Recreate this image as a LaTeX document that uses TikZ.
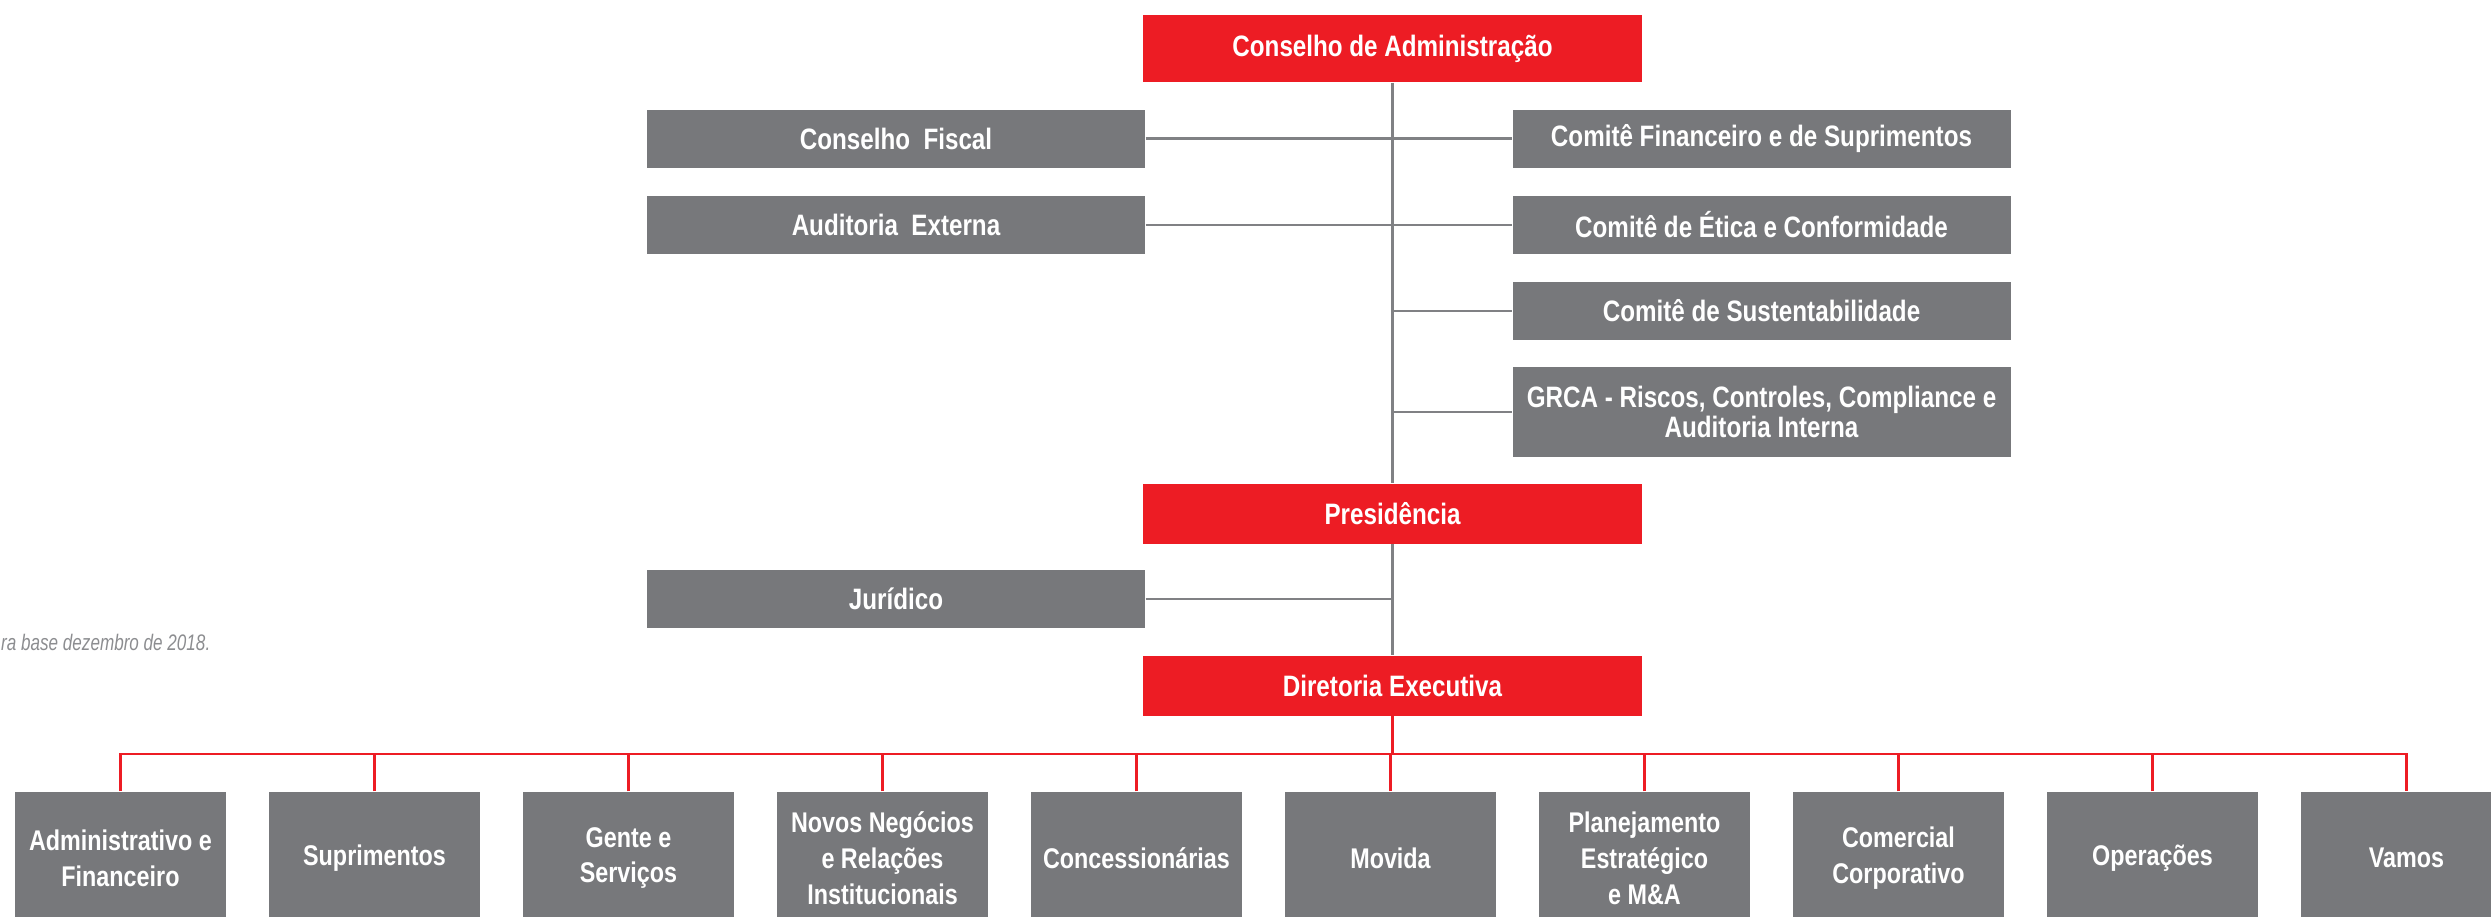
\documentclass[tikz,border=0pt]{standalone}
\usepackage{fontspec}
\setmainfont{Liberation Sans}[FakeStretch=0.82]
\newfontfamily\notefont{Liberation Sans}[FakeStretch=0.76]

\definecolor{boardred}{HTML}{ED1C24}
\definecolor{boxgray}{HTML}{77787B}
\definecolor{linegray}{HTML}{808184}
\definecolor{notegray}{HTML}{8C8D90}

\tikzset{
  redbox/.style={fill=boardred, text=white, inner sep=0pt, align=center,
    minimum width=49.9mm, minimum height=6.0mm,
    font=\fontsize{8.4}{8.6}\selectfont\bfseries},
  graybox/.style={fill=boxgray, text=white, inner sep=0pt, align=center,
    minimum width=49.8mm, minimum height=5.8mm,
    font=\fontsize{8.4}{8.6}\selectfont\bfseries},
  unitbox/.style={fill=boxgray, text=white, inner sep=0pt, align=center,
    minimum width=21.1mm, minimum height=13.2mm,
    font=\fontsize{8.1}{10.2}\selectfont\bfseries},
  trunk/.style={draw=linegray, line width=0.8pt},
  bus/.style={draw=boardred, line width=0.8pt}
}

\begin{document}
\begin{tikzpicture}[x=0.1mm,y=-0.1mm]
        \useasboundingbox (0,0) rectangle (2491,916);

        % board and its committees
        \node[redbox, minimum height=6.7mm] (conselho) at (1392.5,48.5) {Conselho de Administração};
        \node[graybox] (fiscal) at (896,138.5) {Conselho\ \ Fiscal};
        \node[graybox] (auditoria) at (896,225) {Auditoria\ \ Externa};
        \node[graybox] (financeiro) at (1761.5,138.5) {Comitê Financeiro e de Suprimentos};
        \node[graybox] (etica) at (1761.5,225) {Comitê de Ética e Conformidade};
        \node[graybox] (sustent) at (1761.5,311) {Comitê de Sustentabilidade};
        \node[graybox, minimum height=9.0mm] (grca) at (1761.5,412) {GRCA - Riscos, Controles, Compliance e\\Auditoria Interna};

        % management
        \node[redbox] (presid) at (1392.5,513.5) {Presidência};
        \node[graybox] (juridico) at (896,599) {Jurídico};
        \node[redbox] (diretoria) at (1392.5,685.5) {Diretoria Executiva};

        % note cut by the left edge
        \node[anchor=base east, inner sep=0pt, text=notegray,
          font=\fontsize{6.4}{7}\notefont\itshape] (nota) at (211,650) {ra base dezembro de 2018.};

        % grey trunk and its branches
        \draw[trunk] (conselho.south) -- (presid.north);
        \draw[trunk] (presid.south) -- (diretoria.north);
        \draw[trunk] (fiscal.east) -- (financeiro.west);
        \draw[trunk] (auditoria.east) -- (etica.west);
        \draw[trunk] (sustent.west) -- (sustent.west -| conselho.south);
        \draw[trunk] (grca.west) -- (grca.west -| conselho.south);
        \draw[trunk] (juridico.east) -- (juridico.east -| presid.south);

        % executive areas
        \foreach \i/\itext in {
            0/{Administrativo e\\Financeiro},
            1/Suprimentos,
            2/{Gente e\\Serviços},
            3/{Novos Negócios\\e Relações\\Institucionais},
            4/Concessionárias,
            5/Movida,
            6/{Planejamento\\Estratégico\\e M\&A},
            7/{Comercial\\Corporativo},
            8/Operações,
            9/Vamos}
                \node[unitbox] (d\i) at ({120.5+254*\i},858) {\itext};

        % red bus
        \coordinate (busline) at (0,754);
        \draw[bus] (diretoria.south) -- (diretoria.south |- busline);
        \draw[bus] (d0.north) |- (d0.north |- busline) -| (d9.north);
        \foreach \i in {1,...,8}
                \draw[bus] (d\i.north) -- (d\i.north |- busline);

\end{tikzpicture}
\end{document}
